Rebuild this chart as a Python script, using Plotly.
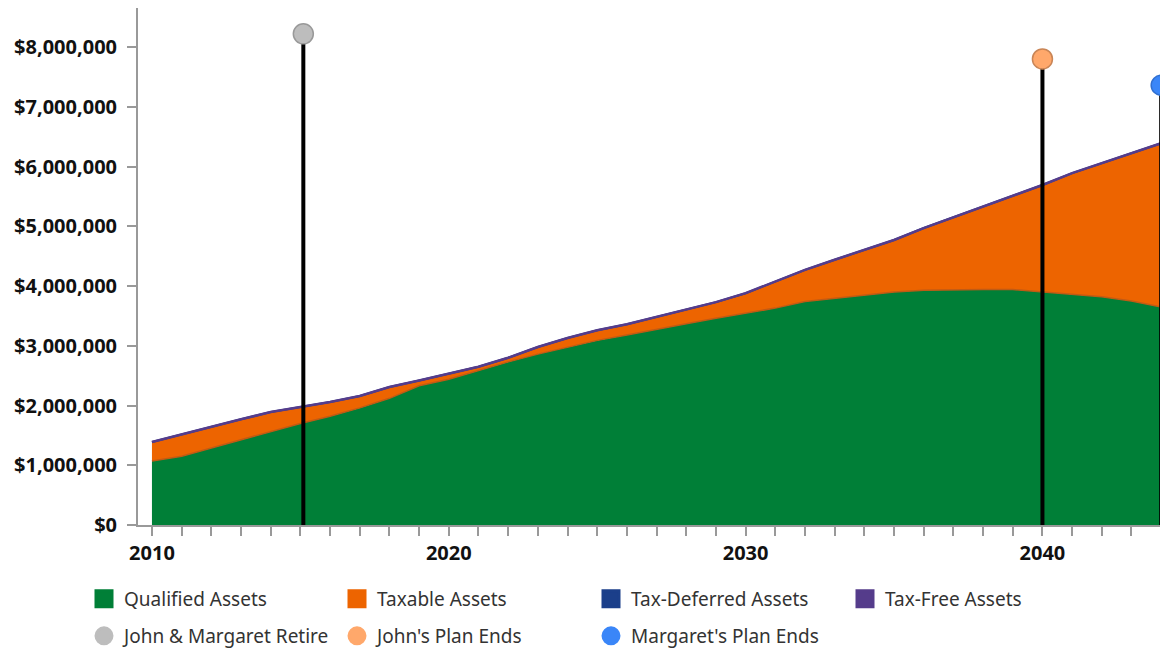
import plotly.graph_objects as go

years = list(range(2010, 2045))
total = [1.39, 1.52, 1.64, 1.77, 1.89, 1.97, 2.06, 2.16, 2.31, 2.42, 2.54, 2.65, 2.80, 2.98,
         3.13, 3.26, 3.36, 3.48, 3.60, 3.73, 3.88, 4.07, 4.27, 4.44, 4.60, 4.77, 4.97, 5.15,
         5.32, 5.51, 5.69, 5.89, 6.06, 6.23, 6.39]
qualified = [1.07, 1.15, 1.29, 1.43, 1.56, 1.70, 1.82, 1.96, 2.12, 2.33, 2.44, 2.59, 2.73, 2.86,
             2.98, 3.09, 3.18, 3.28, 3.37, 3.46, 3.55, 3.63, 3.74, 3.79, 3.85, 3.90, 3.93, 3.94,
             3.94, 3.94, 3.90, 3.87, 3.82, 3.75, 3.65]
qualified = [v * 1e6 for v in qualified]
taxable = [t * 1e6 - q for t, q in zip(total, qualified)]
tax_deferred = [0.0] * len(years)
tax_free = [0.0] * len(years)

events = ["John & Margaret Retire", "John's Plan Ends", "Margaret's Plan Ends"]
event_years = [2015.1, 2040, 2044]
event_heights = [8.22e6, 7.80e6, 7.36e6]
event_colors = ["#bdbdbd", "#ffa86b", "#3a86f8"]
event_borders = ["#999999", "#c98556", "#2f6fd0"]

series = [
    ("Qualified Assets", qualified, "#007f37", "#c05a14", 1.5),
    ("Taxable Assets", taxable, "#ed6400", "#d05a08", 1),
    ("Tax-Deferred Assets", tax_deferred, "#1b3f8a", "#1b3f8a", 2),
    ("Tax-Free Assets", tax_free, "#553c8b", "#553c8b", 2.5),
]

W, H = 1160, 640  # page body adds an 8px offset

fig = go.Figure()
for name, vals, fc, lc, lw in series:
    fig.add_trace(go.Scatter(x=years, y=vals, stackgroup="a", mode="lines",
                             fillcolor=fc, line=dict(color=lc, width=lw),
                             name=name, showlegend=False, hoverinfo="skip"))

for yr, h in zip(event_years, event_heights):
    fig.add_trace(go.Scatter(x=[yr, yr], y=[0, h], mode="lines",
                             line=dict(color="black", width=4), showlegend=False))
for name, yr, h, c, b in zip(events, event_years, event_heights, event_colors, event_borders):
    fig.add_trace(go.Scatter(x=[yr], y=[h], mode="markers", cliponaxis=False,
                             marker=dict(size=20, color=c, line=dict(color=b, width=1.5)),
                             showlegend=False))

# legend entries, one legend per entry for exact placement
col_x = [76, 329, 583, 837]
row_y = [591, 628]
legend_defs = {}
entries = [(n, fc, "square") for n, _, fc, _, _ in series] + \
          [(n, c, "circle") for n, c in zip(events, event_colors)]
for i, (name, color, sym) in enumerate(entries):
    lname = "legend" if i == 0 else f"legend{i + 1}"
    col = i % 4
    row = i // 4
    fig.add_trace(go.Scatter(x=[None], y=[None], mode="markers", name=name,
                             marker=dict(symbol=sym, size=16, color=color,
                                         line=dict(color=color, width=3)),
                             legend=lname))
    legend_defs[lname] = dict(orientation="h", xref="container", yref="container",
                              x=col_x[col] / W, y=1 - row_y[row] / H, yanchor="middle",
                              font=dict(family="Noto Sans", size=19, color="#333333"),
                              itemclick=False, itemdoubleclick=False,
                              bgcolor="rgba(0,0,0,0)")

tickfont = dict(family="Open Sans", size=20, color="#111111", weight="bold")
fig.update_layout(
    width=W, height=H,
    margin=dict(l=130, r=0, t=0, b=123),
    plot_bgcolor="white", paper_bgcolor="white",
    xaxis=dict(range=[2009.53, 2044.23], tickvals=[2010, 2020, 2030, 2040],
               ticks="outside", ticklen=9, tickwidth=2, tickcolor="#999999",
               minor=dict(dtick=1, tick0=2010, ticks="outside", ticklen=9, tickwidth=2,
                          tickcolor="#999999"),
               showline=True, linecolor="#999999", linewidth=2, showgrid=False, zeroline=False,
               ticklabelstandoff=0, tickfont=tickfont),
    yaxis=dict(range=[0, 8.653e6], dtick=1e6, tickprefix="$", tickformat=",.0f",
               ticks="outside", ticklen=9, tickwidth=2, tickcolor="#999999",
               showline=True, linecolor="#999999", linewidth=2, showgrid=False, zeroline=False,
               ticklabelstandoff=6, tickfont=tickfont),
    **legend_defs,
)

fig.write_html("out.html")
